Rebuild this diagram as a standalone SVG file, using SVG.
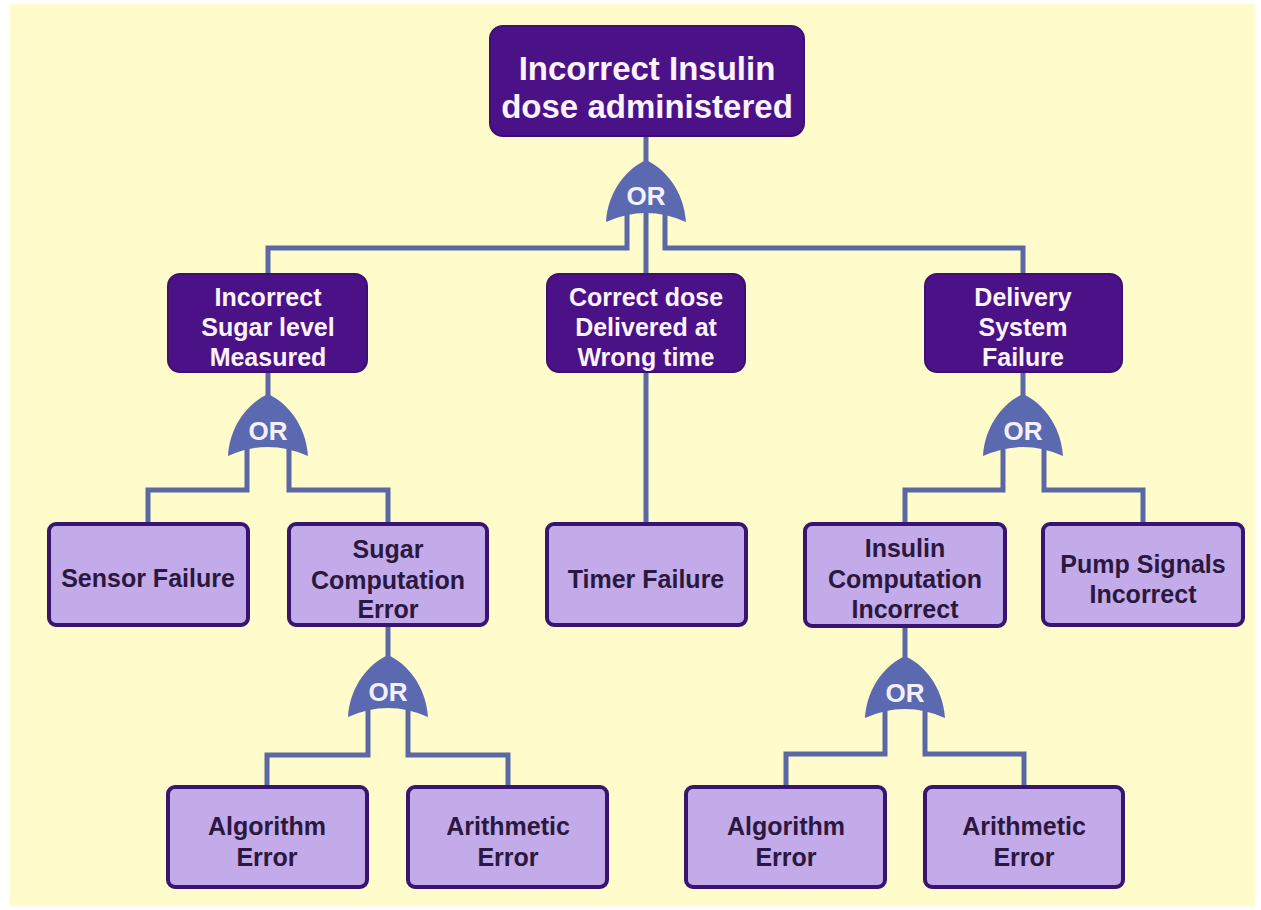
<svg xmlns="http://www.w3.org/2000/svg" width="1261" height="910" viewBox="0 0 1261 910">
<style>
.bg{fill:#FFFBCB}
.dark{fill:#4A1286;stroke:#3E0E74;stroke-width:2}
.light{fill:#C3AAE8;stroke:#3A1570;stroke-width:4}
.tw{fill:#FBF3FF;font-family:"Liberation Sans",Arial,sans-serif;font-weight:bold;text-anchor:middle}
.tb{fill:#2A1840;font-family:"Liberation Sans",Arial,sans-serif;font-weight:bold;text-anchor:middle;font-size:25px}
.gate{fill:#5A69B0}
.gt{fill:#F4F0FF;font-family:"Liberation Sans",Arial,sans-serif;font-weight:bold;text-anchor:middle;font-size:26px}
.conn{fill:none;stroke:#5B68A6;stroke-width:5;stroke-linejoin:miter}
</style>
<defs>
<path id="orgate" d="M0,0 C-18,8 -38,30 -40,62 Q0,44 40,62 C38,30 18,8 0,0 Z"/>
</defs>
<rect width="1261" height="910" fill="#FFFFFF"/>
<rect class="bg" x="10" y="4" width="1245" height="902"/>

<g id="connectors">
<path class="conn" d="M646,136 V275"/>
<path class="conn" d="M627,200 V248 H268 V275"/>
<path class="conn" d="M665,200 V248 H1023 V275"/>
<path class="conn" d="M268,372 V400"/>
<path class="conn" d="M247,440 V490 H148 V524"/>
<path class="conn" d="M289,440 V490 H388 V524"/>
<path class="conn" d="M646,372 V524"/>
<path class="conn" d="M1023,372 V400"/>
<path class="conn" d="M1003,440 V490 H905 V524"/>
<path class="conn" d="M1044,440 V490 H1143 V524"/>
<path class="conn" d="M388,625 V660"/>
<path class="conn" d="M368,700 V755 H267 V787"/>
<path class="conn" d="M408,700 V755 H508 V787"/>
<path class="conn" d="M905,626 V660"/>
<path class="conn" d="M885,700 V754 H786 V787"/>
<path class="conn" d="M925,700 V754 H1024 V787"/>
</g>

<g id="gate-top"><use href="#orgate" class="gate" x="646" y="160"/><text class="gt" x="646" y="205">OR</text></g>
<g id="gate-sugar-level"><use href="#orgate" class="gate" x="268" y="394"/><text class="gt" x="268" y="440">OR</text></g>
<g id="gate-delivery"><use href="#orgate" class="gate" x="1023" y="394"/><text class="gt" x="1023" y="440">OR</text></g>
<g id="gate-sugar-comp"><use href="#orgate" class="gate" x="388" y="655"/><text class="gt" x="388" y="701">OR</text></g>
<g id="gate-insulin-comp"><use href="#orgate" class="gate" x="905" y="656"/><text class="gt" x="905" y="702">OR</text></g>

<g id="node-top">
<rect class="dark" x="490" y="26" width="314" height="110" rx="13"/>
<text class="tw" x="647" y="80" font-size="33">Incorrect Insulin</text>
<text class="tw" x="647" y="118" font-size="33">dose administered</text>
</g>
<g id="node-sugar-level">
<rect class="dark" x="168" y="274" width="199" height="98" rx="12"/>
<text class="tw" x="268" y="306" font-size="25">Incorrect</text>
<text class="tw" x="268" y="336" font-size="25">Sugar level</text>
<text class="tw" x="268" y="366" font-size="25">Measured</text>
</g>
<g id="node-wrong-time">
<rect class="dark" x="547" y="274" width="198" height="98" rx="12"/>
<text class="tw" x="646" y="306" font-size="25">Correct dose</text>
<text class="tw" x="646" y="336" font-size="25">Delivered at</text>
<text class="tw" x="646" y="366" font-size="25">Wrong time</text>
</g>
<g id="node-delivery">
<rect class="dark" x="925" y="274" width="197" height="98" rx="12"/>
<text class="tw" x="1023" y="306" font-size="25">Delivery</text>
<text class="tw" x="1023" y="336" font-size="25">System</text>
<text class="tw" x="1023" y="366" font-size="25">Failure</text>
</g>

<g id="node-sensor">
<rect class="light" x="49" y="524" width="199" height="101" rx="7"/>
<text class="tb" x="148" y="587">Sensor Failure</text>
</g>
<g id="node-sugar-comp">
<rect class="light" x="289" y="524" width="198" height="101" rx="7"/>
<text class="tb" x="388" y="558">Sugar</text>
<text class="tb" x="388" y="589">Computation</text>
<text class="tb" x="388" y="618">Error</text>
</g>
<g id="node-timer">
<rect class="light" x="547" y="524" width="199" height="101" rx="7"/>
<text class="tb" x="646" y="588">Timer Failure</text>
</g>
<g id="node-insulin-comp">
<rect class="light" x="805" y="524" width="200" height="102" rx="7"/>
<text class="tb" x="905" y="557">Insulin</text>
<text class="tb" x="905" y="588">Computation</text>
<text class="tb" x="905" y="618">Incorrect</text>
</g>
<g id="node-pump">
<rect class="light" x="1043" y="524" width="200" height="101" rx="7"/>
<text class="tb" x="1143" y="573">Pump Signals</text>
<text class="tb" x="1143" y="603">Incorrect</text>
</g>

<g id="node-algorithm-1">
<rect class="light" x="168" y="787" width="199" height="100" rx="7"/>
<text class="tb" x="267" y="835">Algorithm</text>
<text class="tb" x="267" y="866">Error</text>
</g>
<g id="node-arithmetic-1">
<rect class="light" x="408" y="787" width="199" height="100" rx="7"/>
<text class="tb" x="508" y="835">Arithmetic</text>
<text class="tb" x="508" y="866">Error</text>
</g>
<g id="node-algorithm-2">
<rect class="light" x="686" y="787" width="199" height="100" rx="7"/>
<text class="tb" x="786" y="835">Algorithm</text>
<text class="tb" x="786" y="866">Error</text>
</g>
<g id="node-arithmetic-2">
<rect class="light" x="925" y="787" width="198" height="100" rx="7"/>
<text class="tb" x="1024" y="835">Arithmetic</text>
<text class="tb" x="1024" y="866">Error</text>
</g>
</svg>
